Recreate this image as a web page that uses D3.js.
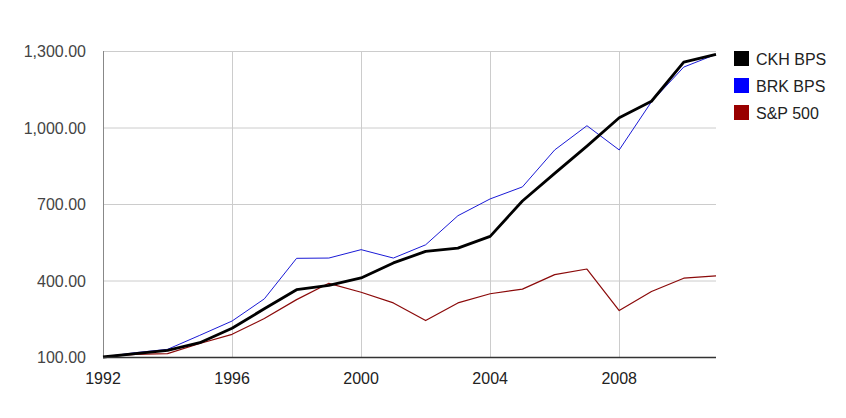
<!DOCTYPE html>
<html><head><meta charset="utf-8">
<script src="https://cdn.jsdelivr.net/npm/d3@7"></script>
<style>body{margin:0;background:#fff}svg{display:block}</style>
</head><body>
<svg id="c" width="846" height="418"></svg>
<script>
const years = [1992,1993,1994,1995,1996,1997,1998,1999,2000,2001,2002,2003,2004,2005,2006,2007,2008,2009,2010,2011];
const ckh = [100,113,126,156,213,289,364,381,410,469,514,527,573,712,820,927,1038,1103,1256,1287];
const brk = [100,117,130,185,241,328,487,488,521,488,540,654,720,767,912,1007,912,1101,1237,1287];
const sp500 = [100,110,113,153,189,251,325,389,354,312,243,312,348,366,423,445,282,357,409,418];
const seriesNames = ["CKH BPS","BRK BPS","S&P 500"];
const yTicks = [100,400,700,1000,1300];
const xTicks = [1992,1996,2000,2004,2008];

const colors = ["#000000","#0000ff","#990000"];
const widths = [2.8,1,1.2];
const lineColors = ["#000000","#1a1ad6","#8b0a0a"];

const svg = d3.select("#c");
const L=103,R=716,T=51,B=357;
const x = d3.scaleLinear().domain([1992,2011]).range([L,R]);
const y = d3.scaleLinear().domain([100,1300]).range([B,T]);
const font = "Arial, 'Liberation Sans', sans-serif";

// gridlines
svg.append("g").selectAll("line").data(yTicks.filter(d=>d>100)).join("line")
  .attr("x1",L).attr("x2",R).attr("y1",d=>y(d)+0.5).attr("y2",d=>y(d)+0.5)
  .attr("stroke","#cccccc").attr("stroke-width",1);
svg.append("g").selectAll("line").data(xTicks.filter(d=>d>1992)).join("line")
  .attr("y1",T).attr("y2",B).attr("x1",d=>Math.round(x(d))+0.5).attr("x2",d=>Math.round(x(d))+0.5)
  .attr("stroke","#cccccc").attr("stroke-width",1);

// left axis line
svg.append("line").attr("x1",L+0.5).attr("x2",L+0.5).attr("y1",T).attr("y2",B)
  .attr("stroke","#888888").attr("stroke-width",1);

// y tick labels
const fmt = d3.format(",.2f");
svg.append("g").selectAll("text").data(yTicks).join("text")
  .attr("x",86).attr("y",d=>y(d)+6).attr("text-anchor","end")
  .attr("font-family",font).attr("font-size",16).attr("fill","#444444")
  .text(d=>fmt(d));

// x tick labels
svg.append("g").selectAll("text").data(xTicks).join("text")
  .attr("x",d=>x(d)).attr("y",384).attr("text-anchor","middle")
  .attr("font-family",font).attr("font-size",16).attr("fill","#222222")
  .text(d=>d);

// lines
const data = [ckh,brk,sp500];
const line = d3.line().x((d,i)=>x(years[i])).y(d=>y(d));
[2,1,0].forEach(k=>{
  svg.append("path").datum(data[k]).attr("d",line)
    .attr("fill","none").attr("stroke",lineColors[k]).attr("stroke-width",widths[k])
    .attr("stroke-linejoin","round");
});

// bottom axis line
svg.append("line").attr("x1",L).attr("x2",R).attr("y1",B+0.5).attr("y2",B+0.5)
  .attr("stroke","#333333").attr("stroke-width",1.5);

// legend
const lg = svg.append("g").selectAll("g").data(seriesNames).join("g")
  .attr("transform",(d,i)=>`translate(734,${51+i*27})`);
lg.append("rect").attr("width",15).attr("height",15).attr("fill",(d,i)=>colors[i]);
lg.append("text").attr("x",22).attr("y",13.5).attr("font-family",font).attr("font-size",16)
  .attr("fill","#222222").text(d=>d);
</script>
</body></html>
